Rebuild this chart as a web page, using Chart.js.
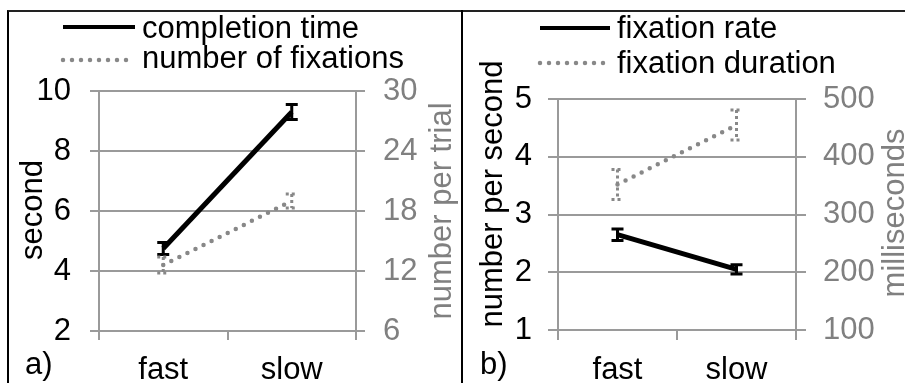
<!DOCTYPE html>
<html>
<head>
<meta charset="utf-8">
<script src="https://cdn.jsdelivr.net/npm/chart.js@4.4.1/dist/chart.umd.min.js"></script>
<style>
  html, body { margin: 0; padding: 0; background: #fff; width: 905px; height: 383px; overflow: hidden; }
  #frame { position: absolute; left: 7px; top: 10px; width: 898px; height: 373px; border-left: 2px solid #000; border-top: 2px solid #222; }
  #divider { position: absolute; left: 461px; top: 10px; width: 2px; height: 373px; background: #000; }
  canvas { position: absolute; top: 12px; }
  #chartA { left: 9px; }
  #chartB { left: 464px; }
</style>
</head>
<body>
<div id="frame"></div>
<div id="divider"></div>
<canvas id="chartA" width="452" height="371"></canvas>
<canvas id="chartB" width="441" height="371"></canvas>
<script>
const categories = ['fast', 'slow'];

// panel a)
const completionTime = [4.75, 9.3];
const completionTimeErr = [0.2, 0.25];
const fixationCount = [12.6, 19.0];
const fixationCountErr = [0.8, 0.7];
const secondTicks = [2, 4, 6, 8, 10];
const perTrialTicks = [6, 12, 18, 24, 30];

// panel b)
const fixationRate = [2.65, 2.05];
const fixationRateErr = [0.1, 0.08];
const fixationDuration = [352, 455];
const fixationDurationErr = [26, 26];
const rateTicks = [1, 2, 3, 4, 5];
const msTicks = [100, 200, 300, 400, 500];

const FONT = '"Liberation Sans", Arial, sans-serif';
const SIZE = 31;
const BLACK = '#000000';
const GRAY = '#808080';
const GRID = '#9a9a9a';
const DOTS = [0, 9];

// error bars, legend rows, panel letter and the rotated axis titles
const panelPlugin = {
  id: 'panel',
  afterDatasetsDraw(chart) {
    const ctx = chart.ctx;
    chart.data.datasets.forEach((ds, i) => {
      const meta = chart.getDatasetMeta(i);
      const scale = chart.scales[ds.yAxisID];
      ctx.save();
      ctx.strokeStyle = ds.borderColor;
      ctx.lineWidth = 3;
      ctx.setLineDash(ds.errorDash || []);
      ds.data.forEach((v, j) => {
        const x = meta.data[j].x;
        const hi = scale.getPixelForValue(v + ds.errors[j]);
        const lo = scale.getPixelForValue(v - ds.errors[j]);
        ctx.beginPath();
        ctx.moveTo(x, hi); ctx.lineTo(x, lo);
        ctx.moveTo(x - 6, hi); ctx.lineTo(x + 6, hi);
        ctx.moveTo(x - 6, lo); ctx.lineTo(x + 6, lo);
        ctx.stroke();
      });
      ctx.restore();
    });
  },
  afterDraw(chart, args, p) {
    const ctx = chart.ctx;
    ctx.save();
    ctx.font = SIZE + 'px ' + FONT;
    chart.data.datasets.forEach((ds, i) => {
      ctx.strokeStyle = ds.borderColor;
      ctx.lineWidth = ds.legendWidth;
      ctx.lineCap = ds.borderCapStyle || 'butt';
      ctx.setLineDash(ds.borderDash || []);
      ctx.beginPath();
      ctx.moveTo(p.sampleX[0], p.sampleY[i]);
      ctx.lineTo(p.sampleX[1], p.sampleY[i]);
      ctx.stroke();
      ctx.setLineDash([]);
      ctx.fillStyle = BLACK;
      ctx.textAlign = 'left';
      ctx.textBaseline = 'alphabetic';
      ctx.fillText(ds.label, p.textX, p.textBase[i]);
    });
    ctx.fillText(p.letter, p.letterX, p.letterBase);
    p.titles.forEach((t, k) => {
      ctx.save();
      ctx.translate(p.titleX[k], p.titleY[k]);
      ctx.rotate(-Math.PI / 2);
      ctx.fillStyle = k ? GRAY : BLACK;
      ctx.textAlign = 'center';
      ctx.textBaseline = 'middle';
      ctx.fillText(t, 0, 0);
      ctx.restore();
    });
    ctx.restore();
  }
};

function panelChart(id, p) {
  const font = {family: FONT, size: SIZE};
  return new Chart(document.getElementById(id), {
    type: 'line',
    data: {
      labels: categories,
      datasets: [{
        label: p.names[0],
        data: p.values[0],
        errors: p.errors[0],
        yAxisID: 'y',
        borderColor: BLACK,
        borderWidth: 5,
        legendWidth: 4,
        pointRadius: 0,
        order: 0
      }, {
        label: p.names[1],
        data: p.values[1],
        errors: p.errors[1],
        errorDash: [3, 3],
        yAxisID: 'y2',
        borderColor: '#888888',
        borderWidth: 4.5,
        legendWidth: 4.5,
        borderDash: DOTS,
        borderCapStyle: 'round',
        pointRadius: 0,
        order: 1
      }]
    },
    options: {
      responsive: false,
      animation: false,
      layout: {padding: {top: p.top}},
      plugins: {legend: {display: false}, tooltip: {enabled: false}, panel: p},
      scales: {
        x: {
          offset: true,
          grid: {offset: true, drawOnChartArea: false, tickLength: p.xTick, color: GRID, lineWidth: 2},
          border: {display: false},
          ticks: {font, color: BLACK, padding: 12, maxRotation: 0},
          afterFit: s => { s.height = p.xHeight; }
        },
        y: {
          position: 'left',
          min: p.leftTicks[0],
          max: p.leftTicks[p.leftTicks.length - 1],
          afterBuildTicks: s => { s.ticks = p.leftTicks.map(v => ({value: v})); },
          grid: {color: GRID, lineWidth: 2, tickLength: p.yTick},
          border: {color: GRID, width: 2},
          ticks: {font, color: BLACK, padding: p.leftPad},
          afterFit: s => { s.width = p.leftWidth; }
        },
        y2: {
          position: 'right',
          min: p.rightTicks[0],
          max: p.rightTicks[p.rightTicks.length - 1],
          afterBuildTicks: s => { s.ticks = p.rightTicks.map(v => ({value: v})); },
          grid: {color: GRID, lineWidth: 2, tickLength: p.yTick, drawOnChartArea: false},
          border: {color: GRID, width: 2},
          ticks: {font, color: GRAY, padding: p.rightPad},
          afterFit: s => { s.width = p.rightWidth; }
        }
      }
    },
    plugins: [panelPlugin]
  });
}

panelChart('chartA', {
  names: ['completion time', 'number of fixations'],
  values: [completionTime, fixationCount],
  errors: [completionTimeErr, fixationCountErr],
  leftTicks: secondTicks,
  rightTicks: perTrialTicks,
  titles: ['second', 'number per trial'],
  titleX: [24, 433], titleY: [198, 199],
  top: 79, xHeight: 52, leftWidth: 90, rightWidth: 105,
  xTick: 9, yTick: 9, leftPad: 19, rightPad: 18,
  sampleX: [54, 126], sampleY: [15, 48],
  textX: 133, textBase: [26, 56],
  letter: 'a)', letterX: 16, letterBase: 362
});

panelChart('chartB', {
  names: ['fixation rate', 'fixation duration'],
  values: [fixationRate, fixationDuration],
  errors: [fixationRateErr, fixationDurationErr],
  leftTicks: rateTicks,
  rightTicks: msTicks,
  titles: ['number per second', 'milliseconds'],
  titleX: [29, 431], titleY: [182, 201],
  top: 87, xHeight: 53, leftWidth: 94, rightWidth: 109,
  xTick: 10, yTick: 10, leftPad: 16, rightPad: 17,
  sampleX: [76, 146], sampleY: [16, 51],
  textX: 153, textBase: [26, 61],
  letter: 'b)', letterX: 16, letterBase: 362
});
</script>
</body>
</html>
